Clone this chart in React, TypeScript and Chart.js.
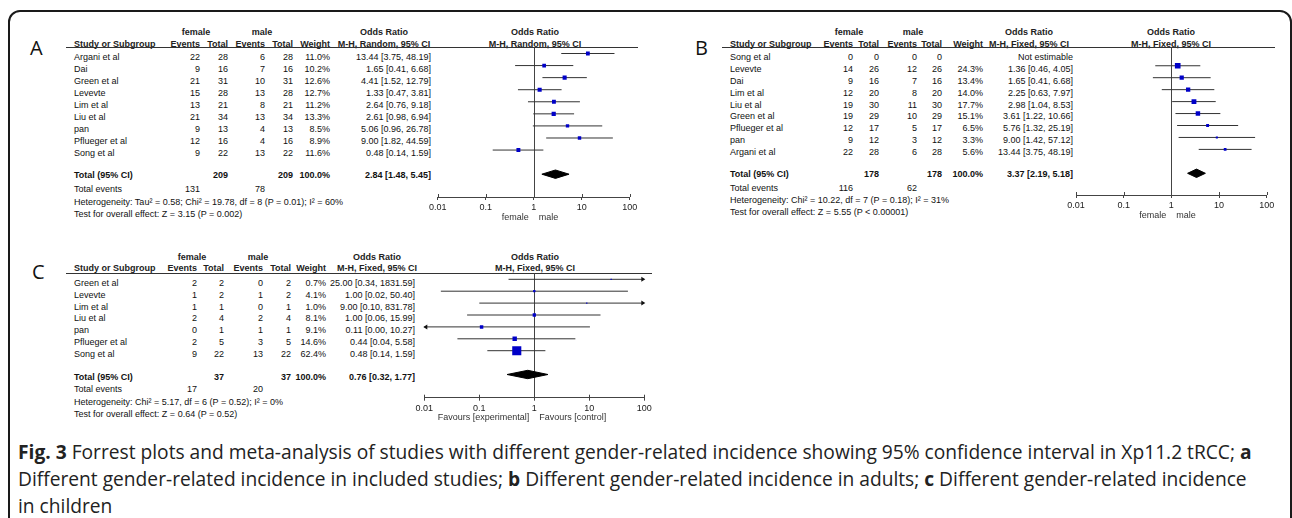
import React, { useEffect, useRef } from 'react';
import { Chart, registerables } from 'chart.js';

Chart.register(...registerables);

const TABLE_FONT = '"Liberation Sans", Arial, Helvetica, sans-serif';
const CAPTION_FONT = '"Open Sans", "Noto Sans", sans-serif';

// ---------- shared axis ----------
const tickValues = [0.01, 0.1, 1, 10, 100];
const tickLabels = ['0.01', '0.1', '1', '10', '100'];

// ---------- Panel A: all studies (random effects) ----------
const studiesA = ['Argani et al', 'Dai', 'Green et al', 'Levevte', 'Lim et al', 'Liu et al', 'pan', 'Pflueger et al', 'Song et al'];
const femaleEventsA = [22, 9, 21, 15, 13, 21, 9, 12, 9];
const femaleTotalA = [28, 16, 31, 28, 21, 34, 13, 16, 22];
const maleEventsA = [6, 7, 10, 13, 8, 13, 4, 4, 13];
const maleTotalA = [28, 16, 31, 28, 21, 34, 13, 16, 22];
const weightA = [11.0, 10.2, 12.6, 12.7, 11.2, 13.3, 8.5, 8.9, 11.6];
const oddsA = [13.44, 1.65, 4.41, 1.33, 2.64, 2.61, 5.06, 9.0, 0.48];
const lowerA = [3.75, 0.41, 1.52, 0.47, 0.76, 0.98, 0.96, 1.82, 0.14];
const upperA = [48.19, 6.68, 12.79, 3.81, 9.18, 6.94, 26.78, 44.59, 1.59];
const pooledA = [2.84, 1.48, 5.45];
const totalsA = [209, 209];
const eventsA = [131, 78];
const hetA = 'Heterogeneity: Tau² = 0.58; Chi² = 19.78, df = 8 (P = 0.01); I² = 60%';
const testA = 'Test for overall effect: Z = 3.15 (P = 0.002)';

// ---------- Panel B: adults (fixed effects) ----------
const studiesB = ['Song et al', 'Levevte', 'Dai', 'Lim et al', 'Liu et al', 'Green et al', 'Pflueger et al', 'pan', 'Argani et al'];
const femaleEventsB = [0, 14, 9, 12, 19, 19, 12, 9, 22];
const femaleTotalB = [0, 26, 16, 20, 30, 29, 17, 12, 28];
const maleEventsB = [0, 12, 7, 8, 11, 10, 5, 3, 6];
const maleTotalB = [0, 26, 16, 20, 30, 29, 17, 12, 28];
const weightB = [null, 24.3, 13.4, 14.0, 17.7, 15.1, 6.5, 3.3, 5.6];
const oddsB = [null, 1.36, 1.65, 2.25, 2.98, 3.61, 5.76, 9.0, 13.44];
const lowerB = [null, 0.46, 0.41, 0.63, 1.04, 1.22, 1.32, 1.42, 3.75];
const upperB = [null, 4.05, 6.68, 7.97, 8.53, 10.66, 25.19, 57.12, 48.19];
const pooledB = [3.37, 2.19, 5.18];
const totalsB = [178, 178];
const eventsB = [116, 62];
const hetB = 'Heterogeneity: Chi² = 10.22, df = 7 (P = 0.18); I² = 31%';
const testB = 'Test for overall effect: Z = 5.55 (P < 0.00001)';

// ---------- Panel C: children (fixed effects) ----------
const studiesC = ['Green et al', 'Levevte', 'Lim et al', 'Liu et al', 'pan', 'Pflueger et al', 'Song et al'];
const femaleEventsC = [2, 1, 1, 2, 0, 2, 9];
const femaleTotalC = [2, 2, 1, 4, 1, 5, 22];
const maleEventsC = [0, 1, 0, 2, 1, 3, 13];
const maleTotalC = [2, 2, 1, 4, 1, 5, 22];
const weightC = [0.7, 4.1, 1.0, 8.1, 9.1, 14.6, 62.4];
const oddsC = [25.0, 1.0, 9.0, 1.0, 0.11, 0.44, 0.48];
const lowerC = [0.34, 0.02, 0.1, 0.06, 0.0, 0.04, 0.14];
const upperC = [1831.59, 50.4, 831.78, 15.99, 10.27, 5.58, 1.59];
const pooledC = [0.76, 0.32, 1.77];
const totalsC = [37, 37];
const eventsC = [17, 20];
const hetC = 'Heterogeneity: Chi² = 5.17, df = 6 (P = 0.52); I² = 0%';
const testC = 'Test for overall effect: Z = 0.64 (P = 0.52)';

const panelA = { letter: 'A', method: 'M-H, Random, 95% CI', studies: studiesA, fe: femaleEventsA, ft: femaleTotalA, me: maleEventsA, mt: maleTotalA, weight: weightA, odds: oddsA, lower: lowerA, upper: upperA, pooled: pooledA, totals: totalsA, events: eventsA, het: hetA, test: testA, side: ['female', 'male'] };
const panelB = { letter: 'B', method: 'M-H, Fixed, 95% CI', studies: studiesB, fe: femaleEventsB, ft: femaleTotalB, me: maleEventsB, mt: maleTotalB, weight: weightB, odds: oddsB, lower: lowerB, upper: upperB, pooled: pooledB, totals: totalsB, events: eventsB, het: hetB, test: testB, side: ['female', 'male'] };
const panelC = { letter: 'C', method: 'M-H, Fixed, 95% CI', studies: studiesC, fe: femaleEventsC, ft: femaleTotalC, me: maleEventsC, mt: maleTotalC, weight: weightC, odds: oddsC, lower: lowerC, upper: upperC, pooled: pooledC, totals: totalsC, events: eventsC, het: hetC, test: testC, side: ['Favours [experimental]', 'Favours [control]'] };

// ---------- layout (positions only) ----------
const layoutA = {
  letterX: 30, letterY: 47.5,
  cols: { study: 74, fe: 200, ft: 228, me: 265, mt: 293, w: 330, ci: 431 },
  head1Y: 32.3, head2Y: 43.7, femaleX: 196, maleX: 262, orTableX: 384, orPlotX: 535,
  rowY0: 56.8, pitch: 12.07, totalY: 175, eventsY: 189, hetY: 201.5, testY: 213.5,
  rule: { x1: 66, x2: 638, y: 47.5 },
  canvas: { left: 400, top: 30, width: 260, height: 200 },
  area: { left: 437.7, right: 629.7, top: 47.5, bottom: 197 },
  lineY0: 53.5, totalRow: 10, sideOffset: 21,
};
const layoutB = {
  letterX: 695, letterY: 47.5,
  cols: { study: 730, fe: 853, ft: 879, me: 917, mt: 942, w: 983, ci: 1073 },
  head1Y: 32.3, head2Y: 43.7, femaleX: 849, maleX: 913, orTableX: 1029, orPlotX: 1171,
  rowY0: 56.7, pitch: 11.95, totalY: 174, eventsY: 188, hetY: 200, testY: 212,
  rule: { x1: 722, x2: 1275, y: 47.3 },
  canvas: { left: 1040, top: 30, width: 252, height: 200 },
  area: { left: 1076, right: 1266.7, top: 47.3, bottom: 195 },
  lineY0: 53.8, totalRow: 10, sideOffset: 21,
};
const layoutC = {
  letterX: 32, letterY: 272,
  cols: { study: 74, fe: 197, ft: 224, me: 263, mt: 291, w: 326, ci: 415 },
  head1Y: 257.3, head2Y: 268.3, femaleX: 192, maleX: 258, orTableX: 377, orPlotX: 535,
  rowY0: 282.7, pitch: 11.9, totalY: 376.7, eventsY: 389.3, hetY: 401.7, testY: 413.5,
  rule: { x1: 66, x2: 652, y: 273.3 },
  canvas: { left: 390, top: 260, width: 290, height: 170 },
  area: { left: 424.3, right: 644.3, top: 273.3, bottom: 397.7 },
  lineY0: 279.3, totalRow: 8, sideOffset: 19.5,
};

const forestPlugin = {
  id: 'forestExtras',
  beforeDatasetsDraw(chart: any) {
    const { ctx, chartArea: a, scales } = chart;
    const x = scales.x;
    ctx.save();
    ctx.strokeStyle = '#444';
    ctx.lineWidth = 1;
    ctx.beginPath();
    const x1 = Math.round(x.getPixelForValue(1)) + 0.5;
    ctx.moveTo(x1, a.top);
    ctx.lineTo(x1, a.bottom);
    for (const v of tickValues) {
      const px = Math.round(x.getPixelForValue(v)) + 0.5;
      ctx.moveTo(px, a.bottom - 3);
      ctx.lineTo(px, a.bottom);
    }
    ctx.stroke();
    ctx.restore();
  },
  afterDraw(chart: any, _args: any, opts: any) {
    const { ctx, chartArea: a, scales } = chart;
    const x = scales.x;
    const y = scales.y;
    ctx.save();
    ctx.fillStyle = '#111';
    for (const i of opts.arrowLeft || []) {
      const py = y.getPixelForValue(i);
      ctx.beginPath();
      ctx.moveTo(a.left - 1, py);
      ctx.lineTo(a.left + 3, py - 2.5);
      ctx.lineTo(a.left + 3, py + 2.5);
      ctx.closePath();
      ctx.fill();
    }
    for (const i of opts.arrowRight || []) {
      const py = y.getPixelForValue(i);
      ctx.beginPath();
      ctx.moveTo(a.right + 1, py);
      ctx.lineTo(a.right - 3, py - 2.5);
      ctx.lineTo(a.right - 3, py + 2.5);
      ctx.closePath();
      ctx.fill();
    }
    const x1 = x.getPixelForValue(1);
    const ly = a.bottom + opts.sideOffset;
    ctx.font = `9px ${TABLE_FONT}`;
    ctx.fillStyle = '#333';
    ctx.textBaseline = 'middle';
    ctx.textAlign = 'right';
    ctx.fillText(opts.side[0], x1 - 5, ly);
    ctx.textAlign = 'left';
    ctx.fillText(opts.side[1], x1 + 5, ly);
    ctx.restore();
  },
};

function ForestChart({ d, L }: { d: any; L: any }) {
  const ref = useRef<HTMLCanvasElement>(null);
  useEffect(() => {
    const canvas = ref.current!;
    const c = L.canvas;
    const area = L.area;
    const xMin = tickValues[0];
    const xMax = tickValues[tickValues.length - 1];
    const axisH = 20;
    const pad = {
      left: area.left - c.left,
      right: c.left + c.width - area.right,
      top: area.top - c.top,
      bottom: c.top + c.height - area.bottom - axisH,
    };
    const yMin = -(L.lineY0 - area.top) / L.pitch;
    const yMax = yMin + (area.bottom - area.top) / L.pitch;
    const datasets: any[] = [];
    const arrowLeft: number[] = [];
    const arrowRight: number[] = [];
    d.odds.forEach((v: number | null, i: number) => {
      if (v == null) return;
      if (d.lower[i] < xMin) arrowLeft.push(i);
      if (d.upper[i] > xMax) arrowRight.push(i);
      datasets.push({
        data: [
          { x: Math.max(d.lower[i], xMin), y: i },
          { x: Math.min(d.upper[i], xMax), y: i },
        ],
        showLine: true,
        borderColor: '#333',
        borderWidth: 1,
        pointRadius: 0,
        pointHoverRadius: 0,
        order: 2,
      });
    });
    datasets.push({
      data: d.odds
        .map((v: number | null, i: number) => (v == null ? null : { x: v, y: i, w: d.weight[i] }))
        .filter((p: any) => p != null),
      pointStyle: 'rect',
      pointRadius: (ctx: any) => Math.max(1.3, 1.15 * Math.sqrt(ctx.raw ? ctx.raw.w : 1)) / Math.SQRT2,
      pointHoverRadius: 0,
      backgroundColor: '#0000c8',
      borderWidth: 0,
      pointBorderWidth: 0,
      order: 0,
    });
    const h = 4.2 / L.pitch;
    const [est, lo, hi] = d.pooled;
    const t = L.totalRow;
    datasets.push({
      data: [
        { x: lo, y: t },
        { x: est, y: t - h },
        { x: hi, y: t },
        { x: est, y: t + h },
        { x: lo, y: t },
      ],
      showLine: true,
      fill: 'shape',
      backgroundColor: '#000',
      borderColor: '#000',
      borderWidth: 1,
      pointRadius: 0,
      pointHoverRadius: 0,
      tension: 0,
      order: 1,
    });
    const chart = new Chart(canvas, {
      type: 'scatter',
      data: { datasets },
      plugins: [forestPlugin as any],
      options: {
        animation: false,
        responsive: false,
        events: [],
        layout: { padding: pad },
        plugins: {
          legend: { display: false },
          tooltip: { enabled: false },
          forestExtras: { arrowLeft, arrowRight, side: d.side, sideOffset: L.sideOffset },
        } as any,
        scales: {
          x: {
            type: 'logarithmic',
            min: xMin,
            max: xMax,
            position: 'bottom',
            afterBuildTicks: (s: any) => {
              s.ticks = tickValues.map((v) => ({ value: v }));
            },
            afterFit: (s: any) => {
              s.height = axisH;
            },
            ticks: {
              callback: (_v: any, i: number) => tickLabels[i],
              font: { family: TABLE_FONT, size: 9 },
              color: '#222',
              padding: 2,
              maxRotation: 0,
              autoSkip: false,
            },
            grid: { display: true, drawOnChartArea: false, drawTicks: true, tickLength: 3, color: '#444', lineWidth: 1 },
            border: { display: true, color: '#444', width: 1 },
          } as any,
          y: { type: 'linear', display: false, reverse: true, min: yMin, max: yMax },
        },
      },
    });
    return () => chart.destroy();
  }, [d, L]);
  const c = L.canvas;
  return (
    <canvas
      ref={ref}
      width={c.width}
      height={c.height}
      style={{ position: 'absolute', left: c.left, top: c.top, width: c.width, height: c.height }}
    />
  );
}

function Txt({ x, y, a = 'l', bold = false, color = '#111', size = 9, children }: any) {
  const tx = a === 'r' ? '-100%' : a === 'c' ? '-50%' : '0';
  return (
    <div
      style={{
        position: 'absolute',
        left: x,
        top: y,
        transform: `translate(${tx}, -50%)`,
        fontFamily: TABLE_FONT,
        fontWeight: bold ? 'bold' : 'normal',
        fontSize: size,
        lineHeight: `${size + 2}px`,
        color,
        whiteSpace: 'nowrap',
      }}
    >
      {children}
    </div>
  );
}

function Panel({ d, L }: { d: any; L: any }) {
  const C = L.cols;
  const H = '#222';
  const items: any[] = [];
  d.studies.forEach((s: string, i: number) => {
    const y = L.rowY0 + i * L.pitch;
    items.push(<Txt key={'s' + i} x={C.study} y={y}>{s}</Txt>);
    items.push(<Txt key={'fe' + i} x={C.fe} y={y} a="r">{d.fe[i]}</Txt>);
    items.push(<Txt key={'ft' + i} x={C.ft} y={y} a="r">{d.ft[i]}</Txt>);
    items.push(<Txt key={'me' + i} x={C.me} y={y} a="r">{d.me[i]}</Txt>);
    items.push(<Txt key={'mt' + i} x={C.mt} y={y} a="r">{d.mt[i]}</Txt>);
    items.push(<Txt key={'w' + i} x={C.w} y={y} a="r">{d.weight[i] == null ? '' : d.weight[i].toFixed(1) + '%'}</Txt>);
    items.push(
      <Txt key={'ci' + i} x={C.ci} y={y} a="r">
        {d.odds[i] == null ? 'Not estimable' : `${d.odds[i].toFixed(2)} [${d.lower[i].toFixed(2)}, ${d.upper[i].toFixed(2)}]`}
      </Txt>
    );
  });
  return (
    <>
      <div style={{ position: 'absolute', left: L.letterX, top: L.letterY, transform: 'translateY(-50%)', fontFamily: CAPTION_FONT, fontSize: 20, lineHeight: '24px', color: '#111' }}>{d.letter}</div>
      <Txt x={L.femaleX} y={L.head1Y} a="c" bold color={H}>female</Txt>
      <Txt x={L.maleX} y={L.head1Y} a="c" bold color={H}>male</Txt>
      <Txt x={L.orTableX} y={L.head1Y} a="c" bold color={H}>Odds Ratio</Txt>
      <Txt x={L.orPlotX} y={L.head1Y} a="c" bold color={H}>Odds Ratio</Txt>
      <Txt x={C.study} y={L.head2Y} bold color={H}>Study or Subgroup</Txt>
      <Txt x={C.fe} y={L.head2Y} a="r" bold color={H}>Events</Txt>
      <Txt x={C.ft} y={L.head2Y} a="r" bold color={H}>Total</Txt>
      <Txt x={C.me} y={L.head2Y} a="r" bold color={H}>Events</Txt>
      <Txt x={C.mt} y={L.head2Y} a="r" bold color={H}>Total</Txt>
      <Txt x={C.w} y={L.head2Y} a="r" bold color={H}>Weight</Txt>
      <Txt x={L.orTableX} y={L.head2Y} a="c" bold color={H}>{d.method}</Txt>
      <Txt x={L.orPlotX} y={L.head2Y} a="c" bold color={H}>{d.method}</Txt>
      <div style={{ position: 'absolute', left: L.rule.x1, top: L.rule.y - 0.5, width: L.rule.x2 - L.rule.x1, height: 1, background: '#333' }} />
      {items}
      <Txt x={C.study} y={L.totalY} bold>Total (95% CI)</Txt>
      <Txt x={C.ft} y={L.totalY} a="r" bold>{d.totals[0]}</Txt>
      <Txt x={C.mt} y={L.totalY} a="r" bold>{d.totals[1]}</Txt>
      <Txt x={C.w} y={L.totalY} a="r" bold>100.0%</Txt>
      <Txt x={C.ci} y={L.totalY} a="r" bold>{`${d.pooled[0].toFixed(2)} [${d.pooled[1].toFixed(2)}, ${d.pooled[2].toFixed(2)}]`}</Txt>
      <Txt x={C.study} y={L.eventsY}>Total events</Txt>
      <Txt x={C.fe} y={L.eventsY} a="r">{d.events[0]}</Txt>
      <Txt x={C.me} y={L.eventsY} a="r">{d.events[1]}</Txt>
      <Txt x={C.study} y={L.hetY}>{d.het}</Txt>
      <Txt x={C.study} y={L.testY}>{d.test}</Txt>
      <ForestChart d={d} L={L} />
    </>
  );
}

export default function App() {
  return (
    <div style={{ position: 'absolute', left: 0, top: 0, width: 1292, height: 518, overflow: 'hidden', background: '#fff' }}>
      <div
        style={{
          position: 'absolute',
          left: 8,
          top: 10,
          width: 1284,
          height: 700,
          boxSizing: 'border-box',
          border: '2px solid #1a1a1a',
          borderRadius: 12,
        }}
      />
      <Panel d={panelA} L={layoutA} />
      <Panel d={panelB} L={layoutB} />
      <Panel d={panelC} L={layoutC} />
      <div
        style={{
          position: 'absolute',
          left: 18,
          top: 437.5,
          fontFamily: CAPTION_FONT,
          fontSize: 19.2,
          lineHeight: '27px',
          color: '#222',
          whiteSpace: 'nowrap',
        }}
      >
        <b>Fig. 3</b> Forrest plots and meta-analysis of studies with different gender-related incidence showing 95% confidence interval in Xp11.2 tRCC; <b>a</b>
        <br />
        Different gender-related incidence in included studies; <b>b</b> Different gender-related incidence in adults; <b>c</b> Different gender-related incidence
        <br />
        in children
      </div>
    </div>
  );
}
